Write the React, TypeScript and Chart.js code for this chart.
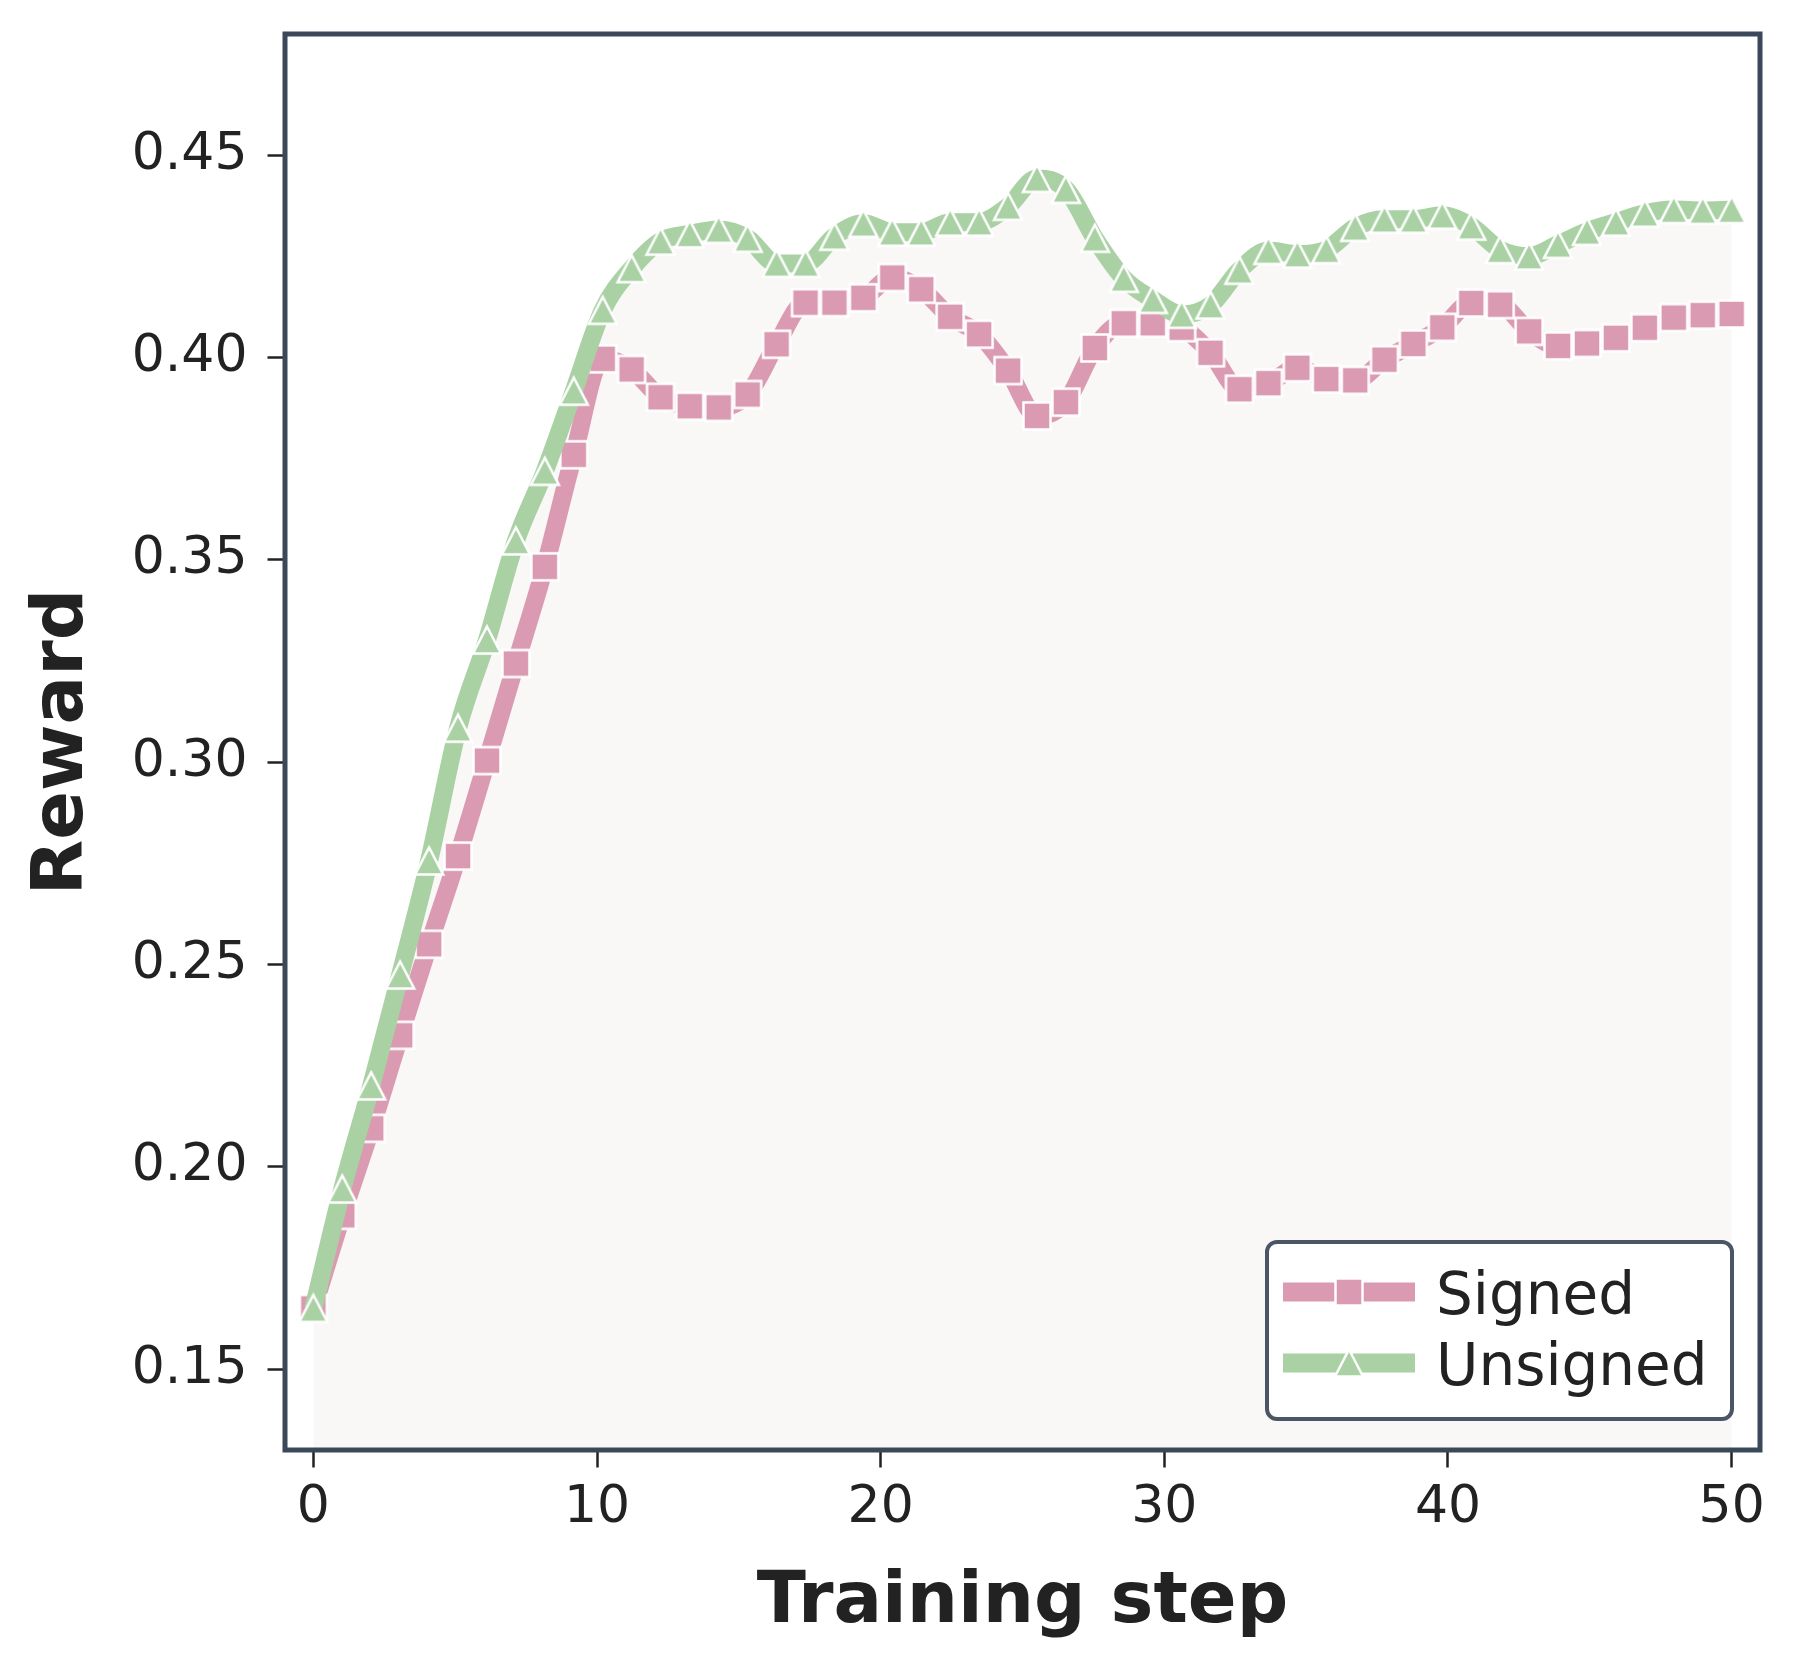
import React, { useEffect, useRef } from 'react';
import { Chart, registerables } from 'chart.js';

Chart.register(...registerables);

// Training steps (50 evenly spaced evaluations between 0 and 50)
const steps = [
  0, 1.02, 2.04, 3.06, 4.08, 5.1, 6.12, 7.14, 8.16, 9.18,
  10.2, 11.22, 12.24, 13.27, 14.29, 15.31, 16.33, 17.35, 18.37, 19.39,
  20.41, 21.43, 22.45, 23.47, 24.49, 25.51, 26.53, 27.55, 28.57, 29.59,
  30.61, 31.63, 32.65, 33.67, 34.69, 35.71, 36.73, 37.76, 38.78, 39.8,
  40.82, 41.84, 42.86, 43.88, 44.9, 45.92, 46.94, 47.96, 48.98, 50,
];

const signedReward = [
  0.165, 0.188, 0.2095, 0.2325, 0.255, 0.2768, 0.3004, 0.3244, 0.3483, 0.376,
  0.3997, 0.3971, 0.3902, 0.388, 0.3877, 0.3909, 0.4033, 0.4136, 0.4136, 0.4148,
  0.4198, 0.4169, 0.4101, 0.4058, 0.3968, 0.3856, 0.389, 0.4024, 0.4085, 0.4085,
  0.4074, 0.4012, 0.3922, 0.3937, 0.3975, 0.3947, 0.3944, 0.3995, 0.4034, 0.4075,
  0.4135, 0.4131, 0.4065, 0.4029, 0.4035, 0.4049, 0.4074, 0.4099, 0.4105, 0.4108,
];

const unsignedReward = [
  0.165, 0.1945, 0.22, 0.2474, 0.2756, 0.3084, 0.3302, 0.3547, 0.3719, 0.3917,
  0.4117, 0.422, 0.4288, 0.4306, 0.4317, 0.4295, 0.4233, 0.4233, 0.43, 0.4332,
  0.431, 0.431, 0.4335, 0.4335, 0.4374, 0.4443, 0.4416, 0.4295, 0.4196, 0.4144,
  0.4107, 0.413, 0.4216, 0.4265, 0.4256, 0.4267, 0.4322, 0.4342, 0.4342, 0.4352,
  0.4325, 0.4267, 0.4251, 0.428, 0.4312, 0.4335, 0.4357, 0.4366, 0.4364, 0.4366,
];

const seriesLabels = ['Signed', 'Unsigned'];
const xTickValues = [0, 10, 20, 30, 40, 50];
const yTickValues = [0.15, 0.2, 0.25, 0.3, 0.35, 0.4, 0.45];
const xTitle = 'Training step';
const yTitle = 'Reward';

const PINK = '#da9bb2';
const GREEN = '#a9d1a4';
const FRAME = '#3b4859';
const LEGEND_EDGE = '#4a5666';
const TEXT = '#222222';
const AREA = '#f9f8f7';
const FONT = "'DejaVu Sans', sans-serif";

function squareMarker(color: string): HTMLCanvasElement {
  const c = document.createElement('canvas');
  c.width = 32;
  c.height = 32;
  const g = c.getContext('2d')!;
  g.fillStyle = color;
  g.strokeStyle = '#ffffff';
  g.lineWidth = 2.5;
  g.beginPath();
  g.rect(2.5, 2.5, 27, 27);
  g.fill();
  g.stroke();
  return c;
}

function triangleMarker(color: string): HTMLCanvasElement {
  const c = document.createElement('canvas');
  c.width = 40;
  c.height = 40;
  const g = c.getContext('2d')!;
  g.fillStyle = color;
  g.strokeStyle = '#ffffff';
  g.lineWidth = 2.5;
  g.lineJoin = 'miter';
  g.beginPath();
  g.moveTo(20, 6.5);
  g.lineTo(34, 33.5);
  g.lineTo(6, 33.5);
  g.closePath();
  g.fill();
  g.stroke();
  return c;
}

export default function App() {
  const canvasRef = useRef<HTMLCanvasElement | null>(null);

  useEffect(() => {
    const canvas = canvasRef.current;
    if (!canvas) return;
    const sq = squareMarker(PINK);
    const tri = triangleMarker(GREEN);

    // Frame, axis titles and the legend box
    const decorations = {
      id: 'decorations',
      afterDatasetsDraw(chart: any) {
        const { ctx, chartArea: a } = chart;
        ctx.save();
        ctx.strokeStyle = FRAME;
        ctx.lineWidth = 5;
        ctx.lineJoin = 'miter';
        ctx.strokeRect(a.left, a.top, a.right - a.left, a.bottom - a.top);

        // axis titles
        ctx.fillStyle = TEXT;
        ctx.font = `bold 72px ${FONT}`;
        ctx.textAlign = 'center';
        ctx.textBaseline = 'alphabetic';
        ctx.fillText(xTitle, (a.left + a.right) / 2, 1622);
        ctx.save();
        ctx.translate(82, (a.top + a.bottom) / 2);
        ctx.rotate(-Math.PI / 2);
        ctx.fillText(yTitle, 0, 0);
        ctx.restore();

        // legend
        const bx = 1267, by = 1242, bw = 465, bh = 177;
        ctx.beginPath();
        ctx.roundRect(bx, by, bw, bh, 10);
        ctx.fillStyle = '#ffffff';
        ctx.fill();
        ctx.lineWidth = 4;
        ctx.strokeStyle = LEGEND_EDGE;
        ctx.stroke();

        const rows = [
          { label: seriesLabels[0], color: PINK, marker: sq, y: 1292 },
          { label: seriesLabels[1], color: GREEN, marker: tri, y: 1363 },
        ];
        for (const r of rows) {
          ctx.beginPath();
          ctx.strokeStyle = r.color;
          ctx.lineWidth = 19;
          ctx.lineCap = 'butt';
          ctx.moveTo(1283, r.y);
          ctx.lineTo(1415, r.y);
          ctx.stroke();
          ctx.drawImage(r.marker, 1349 - r.marker.width / 2, r.y - r.marker.height / 2);
          ctx.fillStyle = TEXT;
          ctx.font = `58px ${FONT}`;
          ctx.textAlign = 'left';
          ctx.textBaseline = 'alphabetic';
          ctx.fillText(r.label, 1436, r.y + 22);
        }
        ctx.restore();
      },
    };

    const tickFont = { family: FONT, size: 52 };

    const chart = new Chart(canvas, {
      type: 'line',
      data: {
        datasets: [
          {
            label: seriesLabels[0],
            data: steps.map((x, i) => ({ x, y: signedReward[i] })),
            borderColor: PINK,
            backgroundColor: PINK,
            borderWidth: 18,
            borderJoinStyle: 'round',
            pointStyle: sq,
            pointRadius: 14,
            cubicInterpolationMode: 'monotone',
            fill: false,
            order: 2,
          },
          {
            label: seriesLabels[1],
            data: steps.map((x, i) => ({ x, y: unsignedReward[i] })),
            borderColor: GREEN,
            backgroundColor: AREA,
            borderWidth: 18,
            borderJoinStyle: 'round',
            pointStyle: tri,
            pointRadius: 14,
            cubicInterpolationMode: 'monotone',
            fill: 'start',
            order: 1,
          },
        ],
      },
      options: {
        animation: false,
        responsive: false,
        maintainAspectRatio: false,
        devicePixelRatio: 1,
        events: [],
        layout: { padding: { top: 34, right: 40, left: 0, bottom: 0 } },
        plugins: {
          legend: { display: false },
          tooltip: { enabled: false },
          filler: { drawTime: 'beforeDatasetsDraw' },
        },
        scales: {
          x: {
            type: 'linear',
            min: -1,
            max: 51,
            border: { display: false },
            grid: {
              display: true,
              drawOnChartArea: false,
              drawTicks: true,
              tickLength: 17.5,
              tickWidth: 2.5,
              tickColor: TEXT,
            },
            ticks: {
              font: tickFont,
              color: TEXT,
              padding: 10,
              maxRotation: 0,
              callback: (v: any) => String(v),
            },
            afterBuildTicks: (scale: any) => {
              scale.ticks = xTickValues.map((v) => ({ value: v }));
            },
            afterFit: (scale: any) => {
              scale.height = 1668 - 1450;
              scale.paddingLeft = 0;
              scale.paddingRight = 0;
            },
          },
          y: {
            type: 'linear',
            min: 0.13,
            max: 0.48,
            border: { display: false },
            grid: {
              display: true,
              drawOnChartArea: false,
              drawTicks: true,
              tickLength: 17.5,
              tickWidth: 2.5,
              tickColor: TEXT,
            },
            ticks: {
              font: tickFont,
              color: TEXT,
              padding: 20,
              callback: (v: any) => Number(v).toFixed(2),
            },
            afterBuildTicks: (scale: any) => {
              scale.ticks = yTickValues.map((v) => ({ value: v }));
            },
            afterFit: (scale: any) => {
              scale.width = 285;
              scale.paddingTop = 0;
              scale.paddingBottom = 0;
            },
          },
        },
      },
      plugins: [decorations],
    } as any);

    return () => chart.destroy();
  }, []);

  return (
    <div style={{ position: 'fixed', left: 0, top: 0, width: 1800, height: 1668, background: '#ffffff' }}>
      <canvas ref={canvasRef} width={1800} height={1668} style={{ width: 1800, height: 1668, display: 'block' }} />
    </div>
  );
}
